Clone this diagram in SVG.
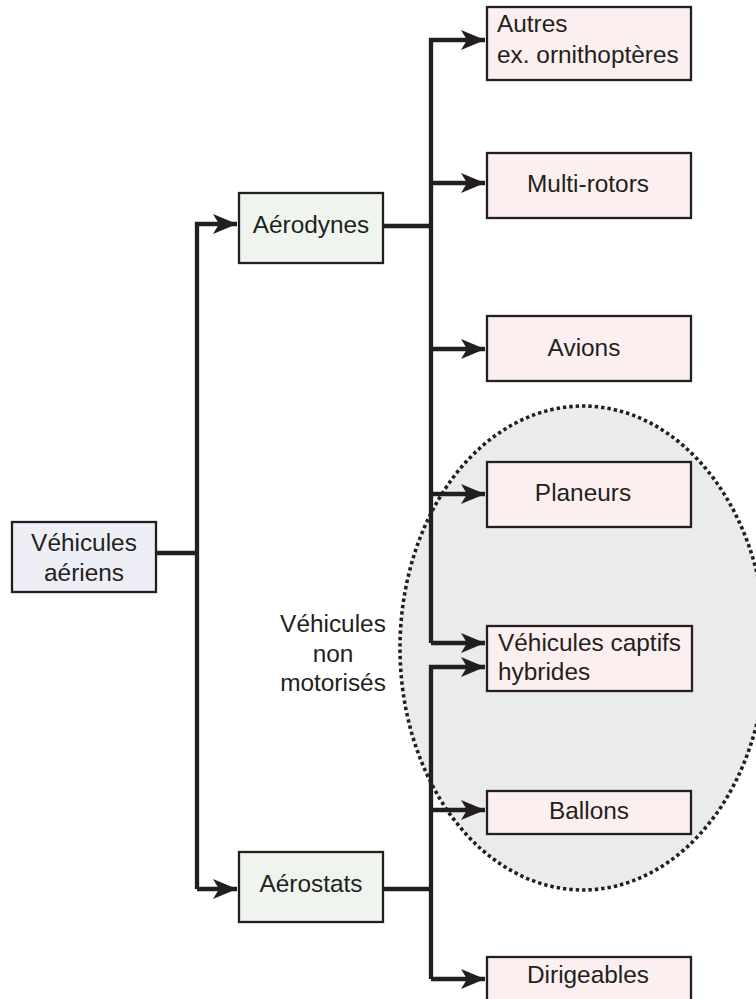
<svg xmlns="http://www.w3.org/2000/svg" width="756" height="999" viewBox="0 0 756 999">
<defs>
<style>
.box{stroke:#231f20;stroke-width:2.3}
.root{fill:#eeeff6}
.mid{fill:#eff5ee}
.leaf{fill:#fcefef}
.t{font-family:"Liberation Sans",Arial,sans-serif;font-size:24.4px;fill:#231f20}
.c{text-anchor:middle}
.ln{fill:none;stroke:#231f20;stroke-width:4.3}
</style>
<marker id="ah" markerUnits="userSpaceOnUse" markerWidth="30" markerHeight="24" viewBox="-25 -12 30 24" refX="0" refY="0" orient="auto">
<path d="M0,0 L-24,-10 L-18,0 L-24,10 Z" fill="#231f20"/>
</marker>
</defs>
<rect width="756" height="999" fill="#ffffff"/>
<g id="group-non-motorises">
<ellipse cx="583" cy="648" rx="183" ry="242" fill="#ebebeb" stroke="#231f20" stroke-width="3.6" stroke-dasharray="3.4 3"/>
<text class="t c" x="333" y="632">Véhicules</text>
<text class="t c" x="333" y="662">non</text>
<text class="t c" x="333" y="691">motorisés</text>
</g>
<g id="connectors">
<path class="ln" d="M156,553 H197"/>
<path class="ln" d="M197,889 V224 H237" marker-end="url(#ah)"/>
<path class="ln" d="M197,889 H237" marker-end="url(#ah)"/>
<path class="ln" d="M383,226 H431"/>
<path class="ln" d="M431,643 V40 H485" marker-end="url(#ah)"/>
<path class="ln" d="M431,183 H485" marker-end="url(#ah)"/>
<path class="ln" d="M431,349 H485" marker-end="url(#ah)"/>
<path class="ln" d="M431,494 H485" marker-end="url(#ah)"/>
<path class="ln" d="M431,643 H485" marker-end="url(#ah)"/>
<path class="ln" d="M383,889 H431"/>
<path class="ln" d="M431,979 V667 H485" marker-end="url(#ah)"/>
<path class="ln" d="M431,810 H485" marker-end="url(#ah)"/>
<path class="ln" d="M431,979 H485" marker-end="url(#ah)"/>
</g>
<g id="vehicules-aeriens">
<rect class="box root" x="12" y="522" width="144" height="70"/>
<text class="t c" x="84" y="551">Véhicules</text>
<text class="t c" x="84" y="581">aériens</text>
</g>
<g id="aerodynes">
<rect class="box mid" x="239" y="193" width="144" height="70"/>
<text class="t c" x="311" y="233">Aérodynes</text>
</g>
<g id="aerostats">
<rect class="box mid" x="239" y="852" width="144" height="70"/>
<text class="t c" x="311" y="892">Aérostats</text>
</g>
<g id="autres">
<rect class="box leaf" x="487" y="7" width="204" height="73"/>
<text class="t" x="497" y="32">Autres</text>
<text class="t" x="497" y="63">ex. ornithoptères</text>
</g>
<g id="multi-rotors">
<rect class="box leaf" x="487" y="153" width="204" height="65"/>
<text class="t c" x="588" y="192">Multi-rotors</text>
</g>
<g id="avions">
<rect class="box leaf" x="487" y="316" width="204" height="65"/>
<text class="t c" x="584" y="356">Avions</text>
</g>
<g id="planeurs">
<rect class="box leaf" x="487" y="462" width="204" height="65"/>
<text class="t c" x="583" y="501">Planeurs</text>
</g>
<g id="vehicules-captifs">
<rect class="box leaf" x="487" y="626" width="205" height="65"/>
<text class="t" x="498" y="651">Véhicules captifs</text>
<text class="t" x="498" y="680">hybrides</text>
</g>
<g id="ballons">
<rect class="box leaf" x="487" y="791" width="204" height="43"/>
<text class="t c" x="589" y="819">Ballons</text>
</g>
<g id="dirigeables">
<rect class="box leaf" x="487" y="957" width="204" height="60"/>
<text class="t c" x="588" y="983">Dirigeables</text>
</g>
</svg>
